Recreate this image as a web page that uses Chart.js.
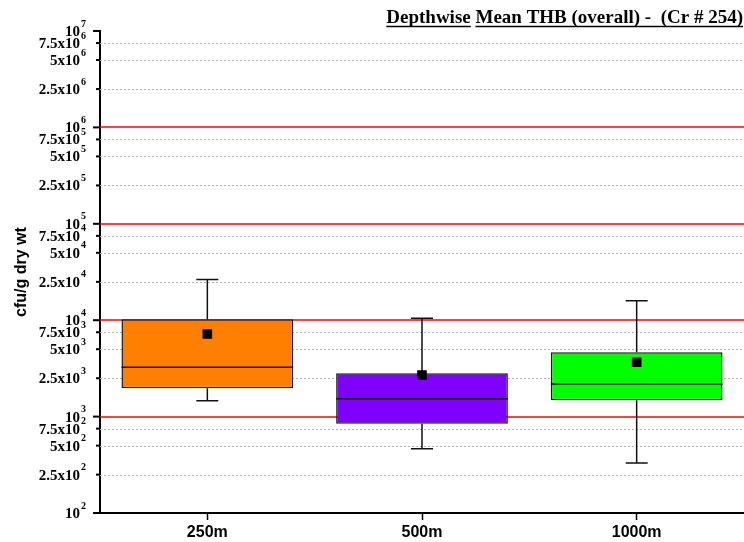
<!DOCTYPE html>
<html><head><meta charset="utf-8">
<script src="https://cdn.jsdelivr.net/npm/chart.js@4.4.1/dist/chart.umd.min.js"></script>
<style>html,body{margin:0;padding:0;background:#fff;overflow:hidden}</style>
</head><body>
<canvas id="c" width="744" height="542"></canvas>
<script>
const categories = ['250m', '500m', '1000m'];
const whiskerLow = [1460, 464, 330];
const q1 = [1970, 844, 1476];
const median = [3245, 1535, 2178];
const q3 = [10200, 2813, 4645];
const whiskerHigh = [26500, 10470, 15900];
const means = [7190, 2705, 3657];
const tickValues = [100, 250, 500, 750, 1000, 2500, 5000, 7500, 1e4, 2.5e4, 5e4, 7.5e4, 1e5, 2.5e5, 5e5, 7.5e5, 1e6, 2.5e6, 5e6, 7.5e6, 1e7];
const tickLabels = ['10^2', '2.5x10^2', '5x10^2', '7.5x10^2', '10^3', '2.5x10^3', '5x10^3', '7.5x10^3', '10^4', '2.5x10^4', '5x10^4', '7.5x10^4', '10^5', '2.5x10^5', '5x10^5', '7.5x10^5', '10^6', '2.5x10^6', '5x10^6', '7.5x10^6', '10^7'];
const boxColors = ['#ff8000', '#8000ff', '#00ff00'];
const subtitleParts = ['Depthwise', 'Mean THB (overall) -  (Cr # 254)'];
const yTitle = 'cfu/g dry wt';

const isDecade = v => Math.abs(Math.log10(v) - Math.round(Math.log10(v))) < 1e-9;

const boxPlugin = {
  id: 'boxParts',
  beforeDatasetsDraw(chart) {
    const ctx = chart.ctx, ys = chart.scales.y, ca = chart.chartArea;
    ctx.save();
    tickValues.forEach(v => {
      if (v === ys.min || v === ys.max) return;
      const dec = isDecade(v);
      let y = ys.getPixelForValue(v);
      if (dec) {
        y = Math.round(y);
        ctx.lineWidth = 1.6;
        ctx.strokeStyle = '#ff0000';
        ctx.setLineDash([]);
      } else {
        y = Math.round(y) + 0.5;
        ctx.lineWidth = 1;
        ctx.strokeStyle = '#b4b4b4';
        ctx.setLineDash([2, 2]);
      }
      ctx.beginPath();
      ctx.moveTo(ca.left, y); ctx.lineTo(ca.right, y);
      ctx.stroke();
    });
    ctx.restore();
  },
  afterDatasetDraw(chart, args) {
    if (args.index !== 1) return;
    const ctx = chart.ctx, ys = chart.scales.y;
    const meta = chart.getDatasetMeta(1);
    ctx.save();
    ctx.strokeStyle = '#111';
    ctx.lineWidth = 1.5;
    meta.data.forEach((bar, i) => {
      const x = bar.x, w = bar.width;
      const yMed = ys.getPixelForValue(median[i]);
      const yQ1 = ys.getPixelForValue(q1[i]);
      const yQ3 = ys.getPixelForValue(q3[i]);
      const yLo = ys.getPixelForValue(whiskerLow[i]);
      const yHi = ys.getPixelForValue(whiskerHigh[i]);
      ctx.beginPath();
      ctx.moveTo(x - w / 2, yMed); ctx.lineTo(x + w / 2, yMed);
      ctx.moveTo(x, yQ3); ctx.lineTo(x, yHi);
      ctx.moveTo(x - 11, yHi); ctx.lineTo(x + 11, yHi);
      ctx.moveTo(x, yQ1); ctx.lineTo(x, yLo);
      ctx.moveTo(x - 11, yLo); ctx.lineTo(x + 11, yLo);
      ctx.stroke();
    });
    ctx.restore();
  },
  afterDraw(chart) {
    const ctx = chart.ctx, ys = chart.scales.y, ca = chart.chartArea;
    ctx.save();
    ctx.fillStyle = '#000';
    ctx.strokeStyle = '#000';
    tickValues.forEach((v, i) => {
      const y = ys.getPixelForValue(v);
      const dec = isDecade(v);
      ctx.lineWidth = 2;
      ctx.beginPath();
      ctx.moveTo(ca.left - (dec ? 7 : 4), y); ctx.lineTo(ca.left, y);
      ctx.stroke();
      const parts = tickLabels[i].split('^');
      ctx.font = 'bold 15px "Liberation Serif"';
      ctx.textAlign = 'right'; ctx.textBaseline = 'alphabetic';
      ctx.fillText(parts[0], 80, y + 5);
      ctx.font = 'bold 10px "Liberation Serif"';
      ctx.textAlign = 'left';
      ctx.fillText(parts[1], 81, y - 4.5);
    });
    // y title
    ctx.save();
    ctx.translate(22, (ca.top + ca.bottom) / 2);
    ctx.rotate(-Math.PI / 2);
    ctx.font = 'bold 16px "Liberation Sans"';
    ctx.textAlign = 'center'; ctx.textBaseline = 'middle';
    ctx.fillText(yTitle, 0, 0);
    ctx.restore();
    // subtitle
    ctx.font = 'bold 19px "Liberation Serif"';
    ctx.textAlign = 'left'; ctx.textBaseline = 'alphabetic';
    const w1 = ctx.measureText(subtitleParts[0]).width;
    const ws = ctx.measureText(' ').width;
    const w2 = ctx.measureText(subtitleParts[1]).width;
    const right = 743;
    const x2 = right - w2, x1 = x2 - ws - w1;
    ctx.fillText(subtitleParts[0], x1, 23);
    ctx.fillText(subtitleParts[1], x2, 23);
    ctx.lineWidth = 1.5;
    ctx.beginPath();
    ctx.moveTo(x1, 26.5); ctx.lineTo(x1 + w1, 26.5);
    ctx.moveTo(x2, 26.5); ctx.lineTo(right, 26.5);
    ctx.stroke();
    ctx.restore();
  }
};

new Chart(document.getElementById('c'), {
  type: 'bar',
  data: {
    labels: categories,
    datasets: [
      {
        type: 'line', label: 'Mean', data: means, showLine: false,
        pointStyle: 'rect', pointRadius: 6.8, pointHoverRadius: 6.8,
        backgroundColor: '#000', borderColor: '#000', borderWidth: 0
      },
      {
        type: 'bar', label: 'Box', data: q1.map((v, i) => [v, q3[i]]),
        backgroundColor: boxColors, borderColor: '#1a1a1a', borderWidth: 1.5,
        borderSkipped: false, categoryPercentage: 1, barPercentage: 0.8
      }
    ]
  },
  options: {
    responsive: false,
    animation: false,
    devicePixelRatio: 1,
    events: [],
    layout: { autoPadding: false, padding: { top: 31, right: 0, bottom: 0, left: 0 } },
    plugins: { legend: { display: false }, tooltip: { enabled: false }, title: { display: false } },
    scales: {
      x: {
        offset: true,
        afterFit: s => { s.height = 29; s.paddingLeft = 0; s.paddingRight = 0; },
        grid: { offset: false, drawOnChartArea: false, drawTicks: true, tickLength: 7, tickColor: '#000', tickWidth: 1.5 },
        border: { color: '#000', width: 2 },
        ticks: { color: '#000', font: { family: 'Liberation Sans', weight: 'bold', size: 16 }, padding: 3, maxRotation: 0 }
      },
      y: {
        type: 'logarithmic', min: 100, max: 1e7,
        afterBuildTicks: s => { s.ticks = tickValues.map(v => ({ value: v })); },
        afterFit: s => { s.width = 100; s.paddingTop = 0; s.paddingBottom = 0; },
        ticks: { display: false },
        grid: { display: false, drawTicks: false },
        border: { display: true, color: '#000', width: 2 }
      }
    }
  },
  plugins: [boxPlugin]
});
</script>
</body></html>
